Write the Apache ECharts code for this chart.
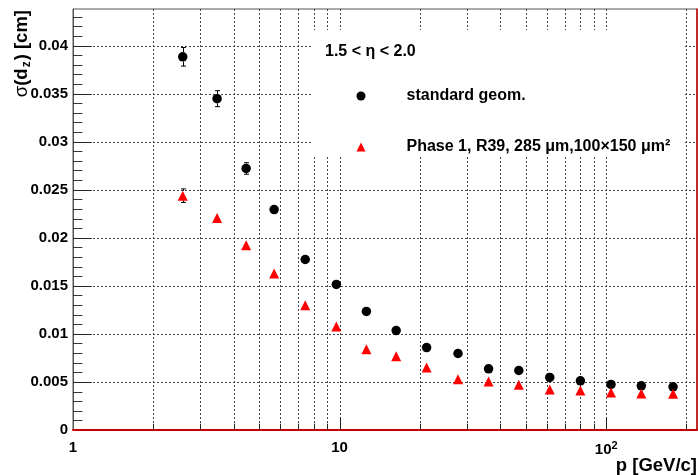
<!DOCTYPE html>
<html>
<head>
<meta charset="utf-8">
<script src="https://cdn.jsdelivr.net/npm/echarts@6/dist/echarts.min.js"></script>
<style>
  html, body { margin: 0; padding: 0; background: #fff; }
  #chart { width: 698px; height: 475px; }
</style>
</head>
<body>
<div id="chart"></div>
<script>
// ---- data ----
const pValues = [2.58, 3.47, 4.46, 5.68, 7.43, 9.72, 12.6, 16.3, 21.2, 27.8, 36.2, 47.0, 61.4, 80.0, 104.2, 135.4, 178.1];
const stdSigma = [0.03883, 0.03447, 0.02721, 0.02293, 0.01774, 0.01515, 0.01234, 0.01034, 0.00858, 0.00796, 0.00636, 0.00619, 0.00547, 0.00512, 0.00474, 0.00460, 0.00449];
const stdErr = [0.00097, 0.00083, 0.00060, 0.00035, 0.00030, 0.00025, 0.00020, 0.00020, 0.00015, 0.00015, 0.00012, 0.00012, 0.00010, 0.00010, 0.00010, 0.00010, 0.00010];
const ph1Sigma = [0.02438, 0.02206, 0.01922, 0.01629, 0.01297, 0.01076, 0.00840, 0.00768, 0.00650, 0.00529, 0.00505, 0.00470, 0.00422, 0.00412, 0.00391, 0.00381, 0.00377];
const ph1Err = [0.00070, 0.00040, 0.00030, 0.00030, 0.00025, 0.00020, 0.00020, 0.00015, 0.00015, 0.00012, 0.00012, 0.00010, 0.00010, 0.00010, 0.00010, 0.00010, 0.00010];

const seriesNames = ['standard geom.', 'Phase 1, R39, 285 μm,100×150 μm²'];
const headerText = '1.5 < η < 2.0';
const xTitle = 'p [GeV/c]';

// axis ticks
const xGridTicks = [2, 3, 4, 5, 6, 7, 8, 9, 10, 20, 30, 40, 50, 60, 70, 80, 90, 100, 200];
const xMajorTicks = [10, 100];
const yMajorTicks = [0.005, 0.01, 0.015, 0.02, 0.025, 0.03, 0.035, 0.04];
const yMinorTicks = [0.001, 0.002, 0.003, 0.004, 0.006, 0.007, 0.008, 0.009, 0.011, 0.012, 0.013, 0.014,
  0.016, 0.017, 0.018, 0.019, 0.021, 0.022, 0.023, 0.024, 0.026, 0.027, 0.028, 0.029,
  0.031, 0.032, 0.033, 0.034, 0.036, 0.037, 0.038, 0.039, 0.041, 0.042, 0.043];

const X_MIN = 1, X_MAX = 219, Y_MIN = 0, Y_MAX = 0.0438;
const FONT = '"Liberation Sans", Arial, Helvetica, sans-serif';
const MARKER = 9.5;

const px = v => Math.round(v) + 0.5;

function xGridItem(params, api) {
  const v = api.value(0);
  const top = api.coord([v, Y_MAX]);
  const bot = api.coord([v, Y_MIN]);
  const major = xMajorTicks.indexOf(v) >= 0;
  const tl = major ? 12.6 : 6.3;
  const x = px(top[0]);
  return {
    type: 'group', children: [
      { type: 'line', shape: { x1: x, y1: top[1], x2: x, y2: bot[1] },
        style: { stroke: '#444', lineWidth: 1, lineDash: [2, 2] } },
      { type: 'line', shape: { x1: x, y1: bot[1], x2: x, y2: bot[1] - tl },
        style: { stroke: '#222', lineWidth: 1 } }
    ]
  };
}
function yGridItem(params, api) {
  const v = api.value(1);
  const l = api.coord([X_MIN, v]);
  const r = api.coord([X_MAX, v]);
  const y = px(l[1]);
  return {
    type: 'group', children: [
      { type: 'line', shape: { x1: l[0], y1: y, x2: r[0], y2: y },
        style: { stroke: '#444', lineWidth: 1, lineDash: [2, 2] } },
      { type: 'line', shape: { x1: l[0], y1: y, x2: l[0] + 18.7, y2: y },
        style: { stroke: '#222', lineWidth: 1 } }
    ]
  };
}
function yMinorItem(params, api) {
  const v = api.value(1);
  const l = api.coord([X_MIN, v]);
  const y = px(l[1]);
  return { type: 'line', shape: { x1: l[0], y1: y, x2: l[0] + 9.4, y2: y },
    style: { stroke: '#333', lineWidth: 1 } };
}
// error bars drawn only outside the marker, like ROOT does
function errItem(params, api) {
  const x = api.value(0), y = api.value(1), e = api.value(2);
  const c = api.coord([x, y]);
  const lo = api.coord([x, y - e]);
  const hi = api.coord([x, y + e]);
  const cx = px(c[0]);
  const r = MARKER / 2;
  if (lo[1] - c[1] <= r) return null;
  return {
    type: 'group', children: [
      { type: 'line', shape: { x1: cx, y1: c[1] + r, x2: cx, y2: lo[1] }, style: { stroke: '#000', lineWidth: 1 } },
      { type: 'line', shape: { x1: cx, y1: c[1] - r, x2: cx, y2: hi[1] }, style: { stroke: '#000', lineWidth: 1 } },
      { type: 'line', shape: { x1: cx - 2.5, y1: lo[1], x2: cx + 2.5, y2: lo[1] }, style: { stroke: '#000', lineWidth: 1 } },
      { type: 'line', shape: { x1: cx - 2.5, y1: hi[1], x2: cx + 2.5, y2: hi[1] }, style: { stroke: '#000', lineWidth: 1 } }
    ]
  };
}

const chart = echarts.init(document.getElementById('chart'), null, { renderer: 'canvas' });

const option = {
  animation: false,
  backgroundColor: '#fff',
  grid: { left: 73, right: 1, top: 9, bottom: 45, show: true, borderColor: '#555', borderWidth: 1, backgroundColor: 'transparent' },
  xAxis: {
    type: 'log', logBase: 10, min: X_MIN, max: X_MAX,
    axisLine: { show: true, lineStyle: { color: '#cc0000', width: 2 } },
    axisTick: { show: false },
    splitLine: { show: false },
    axisLabel: {
      margin: 10, color: '#000', fontSize: 15, fontWeight: 'bold', fontFamily: FONT,
      showMaxLabel: false,
      formatter: function (v) {
        const l = Math.log10(v);
        if (Math.abs(l - Math.round(l)) > 1e-6) return '';
        const n = Math.round(l);
        if (n === 0) return '1';
        if (n === 1) return '10';
        return '{b|10}{s|2}';
      },
      rich: {
        b: { fontSize: 15, fontWeight: 'bold', fontFamily: FONT, color: '#000' },
        s: { fontSize: 11, fontFamily: FONT, color: '#000', padding: [0, 0, 8, 0] }
      }
    }
  },
  yAxis: [{
    type: 'value', min: Y_MIN, max: Y_MAX, interval: 0.005,
    axisLine: { show: true, lineStyle: { color: '#555', width: 1 } },
    axisTick: { show: false },
    splitLine: { show: false },
    axisLabel: { margin: 5, color: '#000', fontSize: 15, fontWeight: 'bold', fontFamily: FONT, showMaxLabel: false, padding: [0, 0, 3, 0] }
  }, {
    type: 'value', min: Y_MIN, max: Y_MAX, position: 'right',
    axisLine: { show: true, lineStyle: { color: '#cc0000', width: 1.5 } },
    axisTick: { show: false }, axisLabel: { show: false }, splitLine: { show: false }
  }],
  legend: {
    data: [{ name: seriesNames[0], icon: 'circle' }, { name: seriesNames[1], icon: 'triangle' }],
    orient: 'vertical', left: 356.5, top: 88, itemWidth: 9, itemHeight: 9, itemGap: 35, padding: 0,
    selectedMode: false, z: 4,
    textStyle: { fontSize: 16, fontWeight: 'bold', color: '#000', fontFamily: FONT, padding: [0, 0, 0, 36] }
  },
  graphic: [
    { type: 'rect', z: 3, shape: { x: 313, y: 30, width: 371, height: 127 }, style: { fill: '#fff' } },
    { type: 'text', z: 6, x: 325, y: 51.5, style: { text: headerText, font: 'bold 16px ' + FONT, fill: '#000', verticalAlign: 'middle', align: 'left' } },
    { type: 'text', z: 6, x: 697, y: 466, style: { text: xTitle, font: 'bold 18.5px ' + FONT, fill: '#000', verticalAlign: 'middle', align: 'right' } },
    { type: 'text', z: 6, x: 22, y: 10, rotation: Math.PI / 2,
      style: {
        text: '{s|σ}{b|(d}{sub|z}{b|) [cm]}', align: 'right', verticalAlign: 'middle',
        rich: {
          s: { fontSize: 18.5, fontFamily: FONT, fill: '#000' },
          b: { fontSize: 18.5, fontWeight: 'bold', fontFamily: FONT, fill: '#000' },
          sub: { fontSize: 12, fontWeight: 'bold', fontFamily: FONT, fill: '#000', padding: [9, 1, 0, 1] }
        }
      } }
  ],
  series: [
    { type: 'custom', name: 'xgrid', coordinateSystem: 'cartesian2d', z: 1, silent: true,
      data: xGridTicks.map(v => [v, Y_MIN]), renderItem: xGridItem },
    { type: 'custom', name: 'ygrid', coordinateSystem: 'cartesian2d', z: 1, silent: true,
      data: yMajorTicks.map(v => [X_MIN, v]), renderItem: yGridItem },
    { type: 'custom', name: 'yminor', coordinateSystem: 'cartesian2d', z: 1, silent: true,
      data: yMinorTicks.map(v => [X_MIN, v]), renderItem: yMinorItem },
    { type: 'custom', name: 'err0', coordinateSystem: 'cartesian2d', z: 4, silent: true,
      data: pValues.map((p, i) => [p, stdSigma[i], stdErr[i]]), renderItem: errItem },
    { type: 'custom', name: 'err1', coordinateSystem: 'cartesian2d', z: 4, silent: true,
      data: pValues.map((p, i) => [p, ph1Sigma[i], ph1Err[i]]), renderItem: errItem },
    { type: 'scatter', name: seriesNames[0], z: 5, symbol: 'circle', symbolSize: MARKER,
      itemStyle: { color: '#000', opacity: 1 },
      data: pValues.map((p, i) => [p, stdSigma[i]]) },
    { type: 'scatter', name: seriesNames[1], z: 5, symbol: 'triangle', symbolSize: 10,
      itemStyle: { color: '#ff0000', opacity: 1 },
      data: pValues.map((p, i) => [p, ph1Sigma[i]]) }
  ]
};
chart.setOption(option);
</script>
</body>
</html>
